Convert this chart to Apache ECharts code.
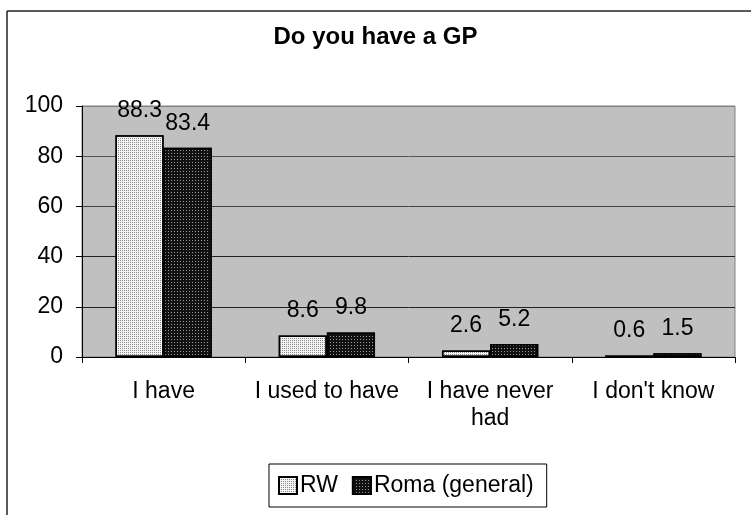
<!DOCTYPE html>
<html><head><meta charset="utf-8">
<script src="https://cdn.jsdelivr.net/npm/echarts@6/dist/echarts.min.js"></script>
<style>html,body{margin:0;padding:0;background:#fff}#c{width:751px;height:515px}</style>
</head><body><div id="c"></div>
<script>
const title = 'Do you have a GP';
const categories = ['I have', 'I used to have', 'I have never had', "I don't know"];
const tickLabels = ['I have', 'I used to have', 'I have never\nhad', "I don't know"];
const seriesNames = ['RW', 'Roma (general)'];
const rwValues = [88.3, 8.6, 2.6, 0.6];
const romaValues = [83.4, 9.8, 5.2, 1.5];
const yTicks = [0, 20, 40, 60, 80, 100];

const FONT = '"Liberation Sans", Arial, sans-serif';
const FS = 23;
const chart = echarts.init(document.getElementById('c'), null, {renderer: 'canvas'});
const labelCfg = {
  show: true, position: 'top', distance: 13,
  fontFamily: FONT, fontSize: FS, color: '#000',
  formatter: p => p.value.toFixed(1)
};
chart.setOption({
  animation: false,
  backgroundColor: '#fff',
  graphic: [{
    type: 'line', silent: true, z: 100,
    shape: {x1: 7, y1: 11, x2: 751, y2: 11},
    style: {stroke: '#222', lineWidth: 1.5}
  }, {
    type: 'line', silent: true, z: 100,
    shape: {x1: 7, y1: 11, x2: 7, y2: 515},
    style: {stroke: '#222', lineWidth: 1.5}
  }],
  title: {
    text: title, left: 'center', top: 20,
    textStyle: {fontFamily: FONT, fontSize: 24, fontWeight: 'bold', color: '#000'}
  },
  legend: {
    left: 269, top: 464,
    padding: [10, 13, 10, 9],
    itemWidth: 18, itemHeight: 17, itemGap: 14, icon: 'rect',
    borderColor: '#000', borderWidth: 1, backgroundColor: '#fff',
    textStyle: {fontFamily: FONT, fontSize: FS, color: '#000', padding: [0, 0, 0, -2]},
    data: seriesNames
  },
  grid: {
    left: 82, right: 16, top: 106, bottom: 158,
    show: true, backgroundColor: '#c0c0c0', borderColor: '#808080', borderWidth: 1
  },
  xAxis: {
    type: 'category', data: categories,
    axisLine: {lineStyle: {color: '#000', width: 1}},
    axisTick: {show: true, length: 6, lineStyle: {color: '#000'}},
    axisLabel: {
      interval: 0,
      fontFamily: FONT, fontSize: FS, color: '#000', margin: 21, lineHeight: 27,
      formatter: (v, i) => tickLabels[i]
    }
  },
  yAxis: {
    type: 'value', min: yTicks[0], max: yTicks[yTicks.length - 1], interval: 20,
    axisLine: {show: true, lineStyle: {color: '#000', width: 1}},
    axisTick: {show: true, length: 6, lineStyle: {color: '#000'}},
    axisLabel: {fontFamily: FONT, fontSize: FS, color: '#000', margin: 19},
    splitLine: {lineStyle: {color: ['#000', '#222', '#222', '#444', '#555', '#808080'], width: 1}}
  },
  series: [{
    name: seriesNames[0], type: 'bar', data: rwValues,
    barGap: '0%', barCategoryGap: '41%',
    itemStyle: {
      color: '#f4f4f4', borderColor: '#000', borderWidth: 1.5,
      decal: {symbol: 'rect', symbolSize: 1, color: '#8a8a8a', dashArrayX: [1, 1], dashArrayY: [1, 1], rotation: 0}
    },
    label: labelCfg
  }, {
    name: seriesNames[1], type: 'bar', data: romaValues,
    itemStyle: {
      color: '#111', borderColor: '#000', borderWidth: 1.5,
      decal: {symbol: 'rect', symbolSize: 1, color: '#9a9a9a', dashArrayX: [1, 2], dashArrayY: [1, 2], rotation: 0}
    },
    label: labelCfg
  }]
});
</script></body></html>
